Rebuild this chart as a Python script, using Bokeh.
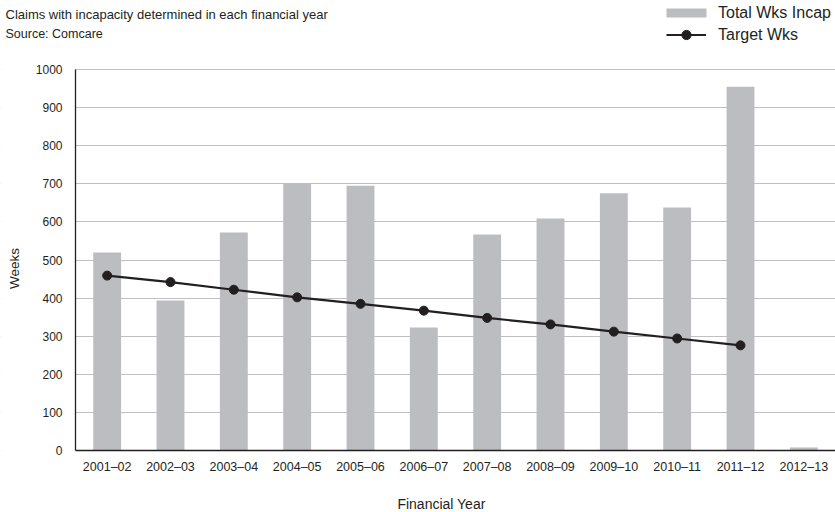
from math import pi
from bokeh.plotting import figure
from bokeh.models import (ColumnDataSource, Range1d, Label, Legend, LegendItem,
                          FixedTicker, BoxAnnotation)
from bokeh.embed import file_html
from bokeh.resources import INLINE

years = ["2001–02", "2002–03", "2003–04", "2004–05", "2005–06", "2006–07",
         "2007–08", "2008–09", "2009–10", "2010–11", "2011–12", "2012–13"]
total_wks_incap = [520, 394, 572, 700, 695, 323, 567, 609, 675, 638, 955, 8]
target_wks = [459, 442, 422, 402, 385, 367, 348, 331, 312, 294, 276]
y_ticks = [0, 100, 200, 300, 400, 500, 600, 700, 800, 900, 1000]

FONT = "Liberation Sans"
INK = "#231f20"
W, H = 835, 512
LEFT, BOTTOM, TOP = 75, 62, 69          # plot-area edges in pixels
N = len(years)
cat_w = (W - LEFT) / N                  # pixels per category
plot_h = H - BOTTOM - TOP
YMAX = 1000

pos = [i + 0.5 for i in range(N)]       # category centres on the axis
x_range = Range1d(-LEFT / cat_w, N)
y_range = Range1d(-YMAX * BOTTOM / plot_h, YMAX * (H - BOTTOM) / plot_h)

p = figure(width=W, height=H, x_range=x_range, y_range=y_range,
           output_backend="svg", toolbar_location=None, min_border=0)
p.outline_line_color = None
p.background_fill_color = "white"
p.border_fill_color = "white"

bar_src = ColumnDataSource(dict(x=pos, y=total_wks_incap))
bars = p.vbar(x="x", top="y", width=0.44, source=bar_src, fill_color="#bcbdc0", line_color=None)
line_src = ColumnDataSource(dict(x=pos[:len(target_wks)], y=target_wks))
ln = p.line(x="x", y="y", source=line_src, line_color=INK, line_width=2.2)
pts = p.scatter(x="x", y="y", source=line_src, size=9, fill_color=INK, line_color=INK)

p.xgrid.grid_line_color = None
p.ygrid.ticker = FixedTicker(ticks=y_ticks)
p.ygrid.grid_line_color = "#c0c0c0"
p.ygrid.grid_line_width = 1
# keep grid lines to the right of the value axis
p.add_layout(BoxAnnotation(left=0, right=LEFT, left_units="screen", right_units="screen",
                           fill_color="white", fill_alpha=1, line_color=None, level="underlay"))

p.xaxis.ticker = FixedTicker(ticks=pos)
p.xaxis.major_label_overrides = {t: lab for t, lab in zip(pos, years)}
p.xaxis.fixed_location = 0
p.xaxis.bounds = (0, N)
p.yaxis.ticker = FixedTicker(ticks=y_ticks)
p.yaxis.fixed_location = 0
p.yaxis.bounds = (0, YMAX)

for ax in (p.xaxis, p.yaxis):
    ax.major_tick_line_color = None
    ax.minor_tick_line_color = None
    ax.major_tick_out = 0
    ax.major_tick_in = 0
    ax.axis_line_color = INK
    ax.axis_line_width = 1.3
    ax.major_label_text_font = FONT
    ax.major_label_text_color = INK

p.xaxis.major_label_text_font_size = "12.5px"
p.xaxis.major_label_standoff = 9
p.yaxis.major_label_text_font_size = "12px"
p.yaxis.major_label_standoff = 13

def add_text(text, x, y, size, angle=0, align="left"):
    p.add_layout(Label(x=x, y=H - y, x_units="screen", y_units="screen", text=text,
                       text_font=FONT, text_font_size=size, text_color=INK,
                       text_baseline="middle", text_align=align, angle=angle))

add_text("Claims with incapacity determined in each financial year", 5, 14, "13px")
add_text("Source: Comcare", 5, 33, "12.5px")
add_text("Financial Year", 441, 503, "14px", align="center")
add_text("Weeks", 14, 268, "13.5px", angle=pi / 2, align="center")

common = dict(padding=0, margin=0, spacing=0,
              border_line_color=None, background_fill_alpha=0,
              label_text_font=FONT, label_text_font_size="16px", label_text_color=INK)
leg1 = Legend(items=[LegendItem(label="Total Wks Incap", renderers=[bars])],
              location=(661, H - 22.5), glyph_width=50, glyph_height=11, label_height=20,
              label_standoff=7, **common)
leg2 = Legend(items=[LegendItem(label="Target Wks", renderers=[ln, pts])],
              location=(666, H - 46), glyph_width=40, glyph_height=23, label_height=23,
              label_standoff=12, **common)
p.add_layout(leg1)
p.add_layout(leg2)

open("out.html", "w").write(file_html(p, INLINE))
